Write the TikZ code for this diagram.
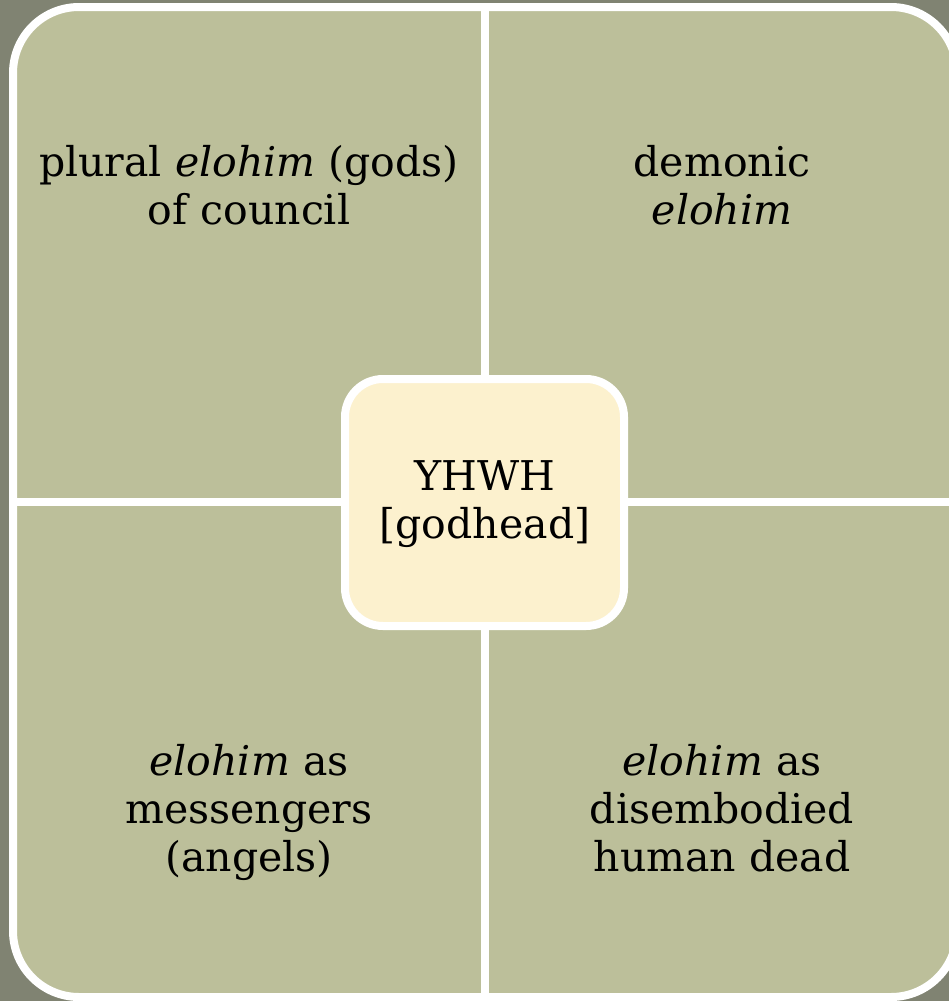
\documentclass[tikz,border=0pt]{standalone}
\usepackage{fontspec}
\setmainfont{DejaVu Serif}
\definecolor{slate}{HTML}{808372}
\definecolor{olive}{HTML}{BCBF9A}
\definecolor{cream}{HTML}{FCF1CE}
\tikzset{panel/.style={draw=white, line width=8pt, fill=olive, rounded corners=66pt, inner sep=0pt},
  hubbox/.style={draw=white, line width=8pt, fill=cream, rounded corners=38pt, inner sep=0pt},
  divider/.style={white, line width=8pt},
  quadtext/.style={align=center, font=\fontsize{41}{48}\selectfont, inner sep=0pt,
    execute at begin node=\strut, execute at end node=\strut}}

\begin{document}
\begin{tikzpicture}[x=1pt,y=-1pt]
      \fill[slate] (0,0) rectangle (949,1001);
      \useasboundingbox (0,0) rectangle (949,1001);

      \node[panel, minimum width=944pt, minimum height=990pt] (frame) at (485,502) {};
      \draw[divider] (frame.north) -- (frame.south);
      \draw[divider] (frame.west) -- (frame.east);

      \node[hubbox, minimum width=279pt, minimum height=247pt] (hub) at (484.5,502.5) {};
      \node[quadtext] (godhead) at (485,507) {YHWH\\{}[godhead]};

      \node[quadtext] (council) at (249,192) {plural \textit{elohim} (gods)\\of council};
      \node[quadtext] (demonic) at (722,192) {demonic\\\textit{elohim}};
      \node[quadtext] (angels) at (249,815) {\textit{elohim} as\\messengers\\(angels)};
      \node[quadtext] (dead) at (722,815) {\textit{elohim} as\\disembodied\\human dead};
\end{tikzpicture}
\end{document}
